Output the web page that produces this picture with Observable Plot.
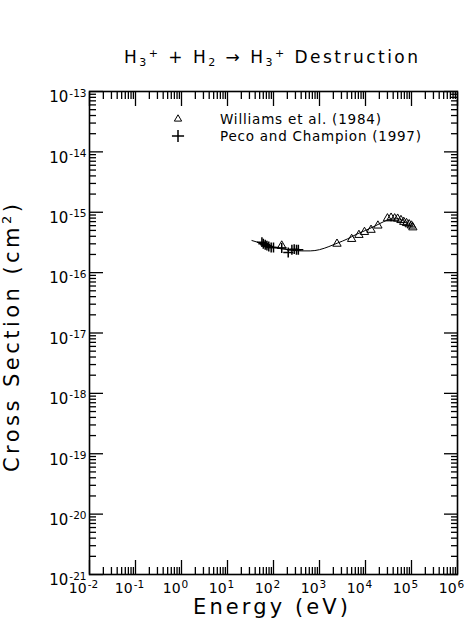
<!DOCTYPE html>
<html><head><meta charset="utf-8">
<script src="https://cdn.jsdelivr.net/npm/d3@7"></script>
<script src="https://cdn.jsdelivr.net/npm/@observablehq/plot@0.6"></script>
<style>body{margin:0;background:#fff} svg{display:block}</style>
</head><body><div id="chart"></div>
<script>
// Williams et al. (1984) — triangles
const williamsE = [151, 2400, 5000, 7200, 9500, 13200, 18600, 30000, 36000, 43000, 50000, 59000, 68000, 78000, 89000, 100000, 107000];
const williamsSigma = [2.8e-16, 3.0e-16, 3.6e-16, 4.2e-16, 4.7e-16, 5.1e-16, 6.0e-16, 7.9e-16, 8.1e-16, 7.9e-16, 7.8e-16, 7.4e-16, 6.9e-16, 6.6e-16, 6.3e-16, 6.0e-16, 5.6e-16];
// Peco and Champion (1997) — crosses
const pecoE = [56, 60, 66, 72, 79, 89, 100, 151, 209, 251, 282, 316, 347];
const pecoSigma = [3.2e-16, 3.0e-16, 2.9e-16, 2.8e-16, 2.7e-16, 2.6e-16, 2.6e-16, 2.55e-16, 2.15e-16, 2.4e-16, 2.45e-16, 2.4e-16, 2.4e-16];
// Fit curve
const fitE = [34, 63, 100, 200, 400, 630, 1000, 1600, 2500, 4000, 6300, 10000, 16000, 25000, 35000, 50000, 70000, 100000];
const fitSigma = [3.4e-16, 2.95e-16, 2.63e-16, 2.4e-16, 2.29e-16, 2.29e-16, 2.4e-16, 2.7e-16, 3.1e-16, 3.6e-16, 4.3e-16, 5.0e-16, 5.9e-16, 7.0e-16, 7.7e-16, 7.8e-16, 7.0e-16, 5.9e-16];

const xMajorTicks = [1e-2, 1e-1, 1e0, 1e1, 1e2, 1e3, 1e4, 1e5, 1e6];
const xTickExponents = ["-2", "-1", "0", "1", "2", "3", "4", "5", "6"];
const yMajorTicks = [1e-21, 1e-20, 1e-19, 1e-18, 1e-17, 1e-16, 1e-15, 1e-14, 1e-13];
const yTickExponents = ["-21", "-20", "-19", "-18", "-17", "-16", "-15", "-14", "-13"];
const minorMultipliers = [2, 3, 4, 5, 6, 7, 8, 9];

const titleText = ["H", "3", "+", " + H", "2", " \u2192 H", "3", "+", " Destruction"];
const xTitle = "Energy (eV)";
const yTitle = "Cross Section (cm";
const legendLabels = ["Williams et al. (1984)", "Peco and Champion (1997)"];

const williams = williamsE.map((e, i) => ({E: e, sigma: williamsSigma[i]}));
const peco = pecoE.map((e, i) => ({E: e, sigma: pecoSigma[i]}));
const fit = fitE.map((e, i) => ({E: e, sigma: fitSigma[i]}));
const xMinor = xMajorTicks.slice(0, -1).flatMap(t => minorMultipliers.map(m => t * m));
const yMinor = yMajorTicks.slice(0, -1).flatMap(t => minorMultipliers.map(m => t * m));
const xLab = new Map(xMajorTicks.map((t, i) => [t, xTickExponents[i]]));
const yLab = new Map(yMajorTicks.map((t, i) => [t, yTickExponents[i]]));

const font = "DejaVu Sans";
const tk = {tickFormat: () => "", label: null, strokeWidth: 1.3};

const chart = Plot.plot({
  width: 470, height: 634,
  marginLeft: 89, marginRight: 13, marginTop: 91, marginBottom: 60,
  style: {fontFamily: font, background: "white", color: "black", overflow: "visible"},
  x: {type: "log", domain: [1e-2, 1e6]},
  y: {type: "log", domain: [1e-21, 1e-13]},
  marks: [
    Plot.axisX({anchor: "bottom", ticks: xMinor, tickSize: -7, ...tk}),
    Plot.axisX({anchor: "bottom", ticks: xMajorTicks, tickSize: -14, ...tk}),
    Plot.axisX({anchor: "top", ticks: xMinor, tickSize: -7, ...tk}),
    Plot.axisX({anchor: "top", ticks: xMajorTicks, tickSize: -14, ...tk}),
    Plot.axisY({anchor: "left", ticks: yMinor, tickSize: -7, ...tk}),
    Plot.axisY({anchor: "left", ticks: yMajorTicks, tickSize: -14, ...tk}),
    Plot.axisY({anchor: "right", ticks: yMinor, tickSize: -7, ...tk}),
    Plot.axisY({anchor: "right", ticks: yMajorTicks, tickSize: -14, ...tk}),
    Plot.axisX({anchor: "bottom", ticks: xMajorTicks, tickSize: 0, tickPadding: 9, dx: -6,
      tickFormat: d => "10^" + xLab.get(d), fontSize: 14, label: null}),
    Plot.axisY({anchor: "left", ticks: yMajorTicks, tickSize: 0, tickPadding: 3, dy: 6,
      tickFormat: d => "10^" + yLab.get(d), fontSize: 15, label: null}),
    Plot.frame({stroke: "black", strokeWidth: 1.6}),
    Plot.line(fit, {x: "E", y: "sigma", stroke: "black", strokeWidth: 1, curve: "monotone-x"}),
    Plot.dot(williams, {x: "E", y: "sigma", symbol: "triangle", r: 3.1, stroke: "black", strokeWidth: 1, fill: "none"}),
    Plot.dot(peco, {x: "E", y: "sigma", symbol: "plus", r: 3.3, stroke: "black", strokeWidth: 1.5})
  ]
});

const svg = d3.select(chart);
// superscript exponents on tick labels
svg.selectAll("text").each(function () {
  const t = this.textContent;
  const m = t.match(/^10\^(.+)$/);
  if (m) {
    const el = d3.select(this);
    el.text("");
    el.append("tspan").text("10");
    el.append("tspan").attr("dy", "-0.55em").attr("dx", 1).attr("font-size", 10.5).text(m[1]);
  }
});

// Title
const title = svg.append("text").attr("x", 124).attr("y", 63).attr("text-anchor", "start")
  .attr("font-family", font).attr("font-size", 17).attr("fill", "black")
  .attr("textLength", 294).attr("lengthAdjust", "spacing");
const shifts = [0, 3, -9, 6, 3, -3, 3, -9, 6];
const small = [false, true, true, false, true, false, true, true, false];
titleText.forEach((s, i) => {
  const ts = title.append("tspan").attr("dy", shifts[i]).text(s);
  if (small[i]) ts.attr("font-size", 11);
});

// X title
svg.append("text").attr("x", 193).attr("y", 614).attr("text-anchor", "start")
  .attr("font-family", font).attr("font-size", 21).attr("fill", "black")
  .attr("textLength", 155).attr("lengthAdjust", "spacing").text(xTitle);

// Y title
const yt = svg.append("text").attr("transform", "translate(19,472) rotate(-90)")
  .attr("text-anchor", "start")
  .attr("font-family", font).attr("font-size", 21).attr("fill", "black")
  .attr("textLength", 268).attr("lengthAdjust", "spacing");
yt.append("tspan").text(yTitle);
yt.append("tspan").attr("dy", -8).attr("font-size", 13).text("2");
yt.append("tspan").attr("dy", 8).text(")");

// Legend
const lg = svg.append("g").attr("font-family", font).attr("font-size", 13.5).attr("fill", "black").attr("text-anchor", "start");
lg.append("path").attr("transform", "translate(178,119)")
  .attr("d", d3.symbol(d3.symbolTriangle2, 38)()).attr("fill", "none").attr("stroke", "black");
lg.append("path").attr("transform", "translate(178,136)")
  .attr("d", d3.symbol(d3.symbolPlus, 50)()).attr("fill", "none").attr("stroke", "black").attr("stroke-width", 1.5);
lg.append("text").attr("x", 220).attr("y", 124).attr("textLength", 161).attr("lengthAdjust", "spacing").text(legendLabels[0]);
lg.append("text").attr("x", 220).attr("y", 141).attr("textLength", 201).attr("lengthAdjust", "spacing").text(legendLabels[1]);

document.getElementById("chart").appendChild(chart);
</script>
</body></html>
